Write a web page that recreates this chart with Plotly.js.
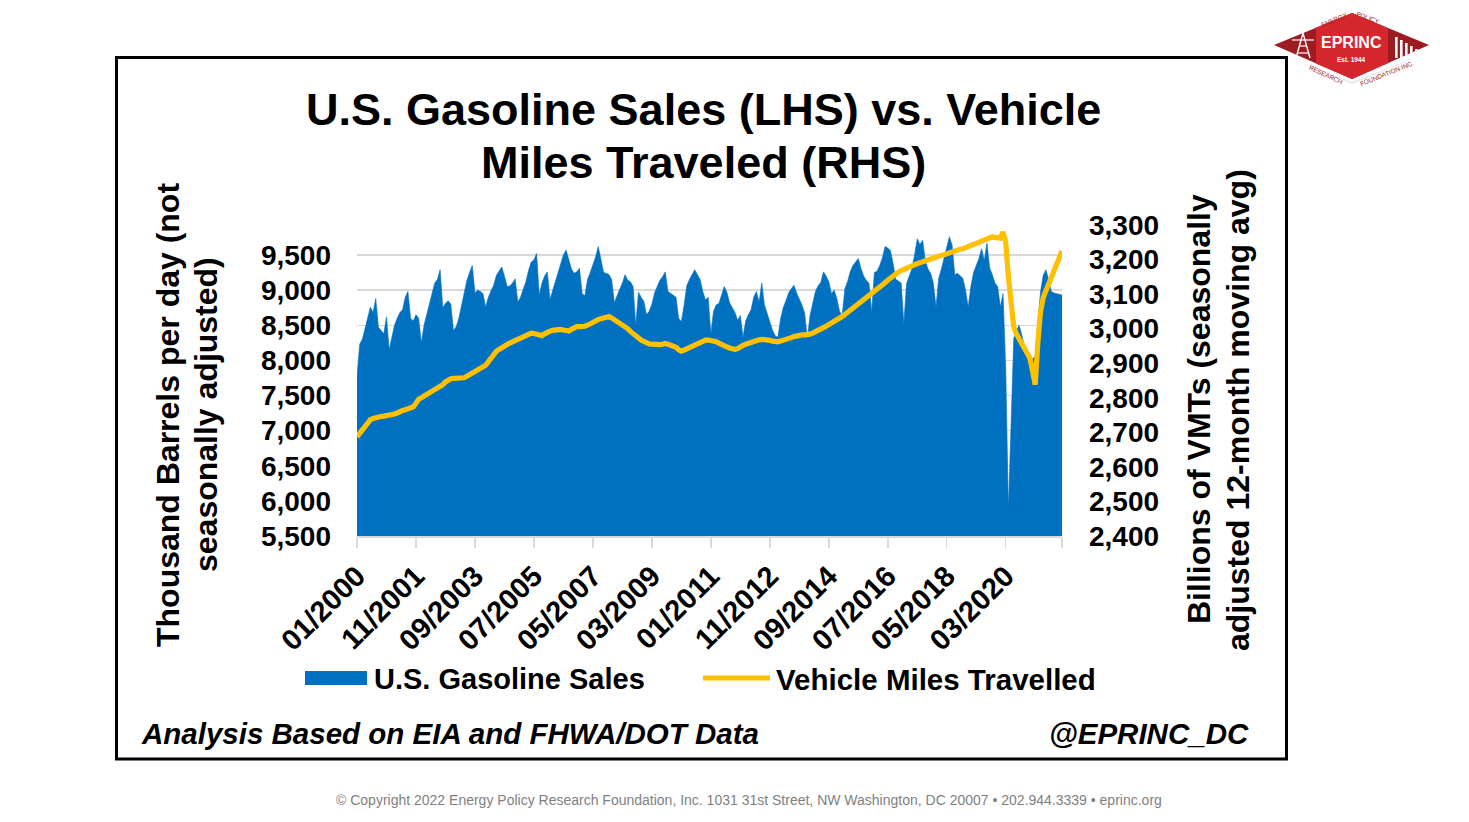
<!DOCTYPE html>
<html>
<head>
<meta charset="utf-8">
<script src="https://cdn.plot.ly/plotly-3.0.1.min.js"></script>
<style>
  html, body { margin: 0; padding: 0; background: #ffffff; }
  #chart { width: 1469px; height: 822px; }
</style>
</head>
<body>
<div id="chart"></div>
<script>
// ---------------- DATA ----------------
const startYear = 2000;
const endYear = 2021;

// U.S. finished motor gasoline product supplied, thousand barrels per day (not SA), monthly 01/2000 - 12/2021
const gasolineSales = [
  7770, 8230, 8300, 8450, 8620, 8760, 8680, 8880, 8470, 8420, 8380, 8620,
  8150, 8330, 8500, 8600, 8680, 8720, 8900, 8980, 8600, 8560, 8650, 8600,
  8250, 8500, 8660, 8800, 8980, 9100, 9150, 9290, 8750, 8810, 8850, 8800,
  8420, 8480, 8600, 8790, 8980, 9140, 9250, 9350, 8960, 9000, 8980, 8950,
  8760, 8900, 8990, 9070, 9210, 9270, 9330, 9200, 9050, 9060, 9100, 9160,
  8830, 8900, 9000, 9120, 9280, 9400, 9430, 9520, 8930, 9100, 9200, 9260,
  8870, 9000, 9130, 9260, 9380, 9500, 9570, 9420, 9300, 9240, 9260, 9310,
  8950, 8920, 9150, 9250, 9360, 9470, 9620, 9420, 9250, 9240, 9220, 9150,
  8820, 8920, 9000, 9100, 9220, 9140, 9120, 9050, 8500, 8970, 8900, 8840,
  8650, 8700, 8800, 8960, 9050, 9140, 9190, 9260, 8980, 8950, 8930, 8900,
  8600, 8550, 8780, 9060, 9150, 9230, 9290, 9220, 9150, 8980, 8860, 8900,
  8380, 8700, 8790, 8810, 8920, 9050, 8970, 8820, 8750, 8680, 8570, 8640,
  8330, 8560, 8650, 8720, 8900, 8980, 8830, 9100, 8790, 8670, 8550, 8430,
  8350, 8330, 8590, 8750, 8850, 8960, 9020, 9070, 8960, 8870, 8790, 8670,
  8310, 8640, 8800, 8980, 9060, 9110, 9260, 9200, 9120, 8950, 9000, 8880,
  8700, 8640, 9020, 9120, 9260, 9350, 9400, 9450, 9310, 9200, 9140, 9095,
  8690, 9250, 9270, 9350, 9460, 9620, 9600, 9560, 9380, 9150, 9130, 9100,
  8520, 9090, 9200, 9300, 9500, 9730, 9650, 9710, 9420, 9300, 9240, 9100,
  8760, 9170, 9300, 9450, 9600, 9760, 9640, 9220, 9240, 9200, 9170, 9000,
  8760, 9050, 9250, 9350, 9450, 9590, 9420, 9670, 9320, 9220, 9100, 9050,
  8760, 8950, 7900, 5880, 7100, 8310, 8420, 8500, 8360, 8200, 8100, 8080,
  8020, 8050, 8550, 8980, 9210, 9290, 9150, 8980, 8960, 8950, 8950, 8930
];

// Vehicle miles travelled, billions, seasonally adjusted 12-month moving average
const vehicleMiles = [
  2687, 2697, 2710, 2720, 2730, 2737, 2740, 2743, 2745, 2746, 2747, 2748,
  2749, 2751, 2753, 2756, 2761, 2763, 2765, 2768, 2771, 2774, 2784, 2796,
  2800, 2805, 2808, 2812, 2816, 2822, 2827, 2832, 2838, 2846, 2851, 2855,
  2856, 2856, 2855, 2856, 2858, 2862, 2867, 2874, 2879, 2883, 2886, 2890,
  2894, 2905, 2918, 2929, 2935, 2940, 2946, 2950, 2954, 2958, 2962, 2966,
  2970, 2974, 2977, 2981, 2985, 2987, 2986, 2985, 2983, 2980, 2985, 2990,
  2993, 2995, 2997, 2999, 2998, 2996, 2994, 2993, 2998, 3004, 3006, 3006,
  3006, 3007, 3010, 3015, 3018, 3021, 3026, 3029, 3032, 3034, 3035, 3031,
  3026, 3021, 3016, 3012, 3008, 3000, 2992, 2985, 2978, 2972, 2967, 2963,
  2958, 2956, 2955, 2954, 2953, 2954, 2955, 2957, 2955, 2953, 2951, 2946,
  2939, 2935, 2938, 2942, 2946, 2950, 2954, 2959, 2962, 2964, 2967, 2967,
  2966, 2964, 2962, 2958, 2953, 2950, 2947, 2944, 2941, 2940, 2942, 2948,
  2952, 2955, 2958, 2962, 2965, 2967, 2968, 2969, 2969, 2968, 2966, 2964,
  2962, 2962, 2964, 2966, 2967, 2970, 2974, 2977, 2980, 2981, 2982, 2982,
  2982, 2984, 2987, 2990, 2993, 2998, 3003, 3007, 3011, 3016, 3020, 3025,
  3030, 3035, 3041, 3047, 3053, 3058, 3063, 3069, 3075, 3081, 3087, 3093,
  3099, 3106, 3113, 3120, 3126, 3133, 3140, 3147, 3153, 3160, 3164, 3168,
  3172, 3175, 3179, 3182, 3185, 3188, 3191, 3194, 3197, 3200, 3203, 3206,
  3208, 3210, 3212, 3214, 3217, 3219, 3222, 3225, 3228, 3230, 3231, 3234,
  3237, 3240, 3243, 3247, 3249, 3252, 3254, 3257, 3261, 3266, 3264, 3261,
  3262, 3280, 3250, 3150, 3065, 3005, 2985, 2972, 2960, 2948, 2935, 2915,
  2878, 2838, 2960, 3050, 3090, 3110, 3130, 3150, 3165, 3185, 3205, 3225
];

const tickLabels = ['01/2000', '11/2001', '09/2003', '07/2005', '05/2007', '03/2009',
                    '01/2011', '11/2012', '09/2014', '07/2016', '05/2018', '03/2020'];

const seriesNames = ['U.S. Gasoline Sales', 'Vehicle Miles Travelled'];
const titleLines = ['U.S. Gasoline Sales (LHS) vs. Vehicle', 'Miles Traveled (RHS)'];
const leftTitleLines = ['Thousand Barrels per day (not', 'seasonally adjusted)'];
const rightTitleLines = ['Billions of VMTs (seasonally', 'adjusted 12-month moving avg)'];
const sourceNote = 'Analysis Based on EIA and FHWA/DOT Data';
const handleNote = '@EPRINC_DC';
const copyrightNote = '\u00A9 Copyright 2022 Energy Policy Research Foundation, Inc. 1031 31st Street, NW Washington, DC 20007 \u2022 202.944.3339 \u2022 eprinc.org';

// month categories MM/YYYY
const months = [];
for (let y = startYear; y <= endYear; y++) {
  for (let m = 1; m <= 12; m++) months.push((m < 10 ? '0' : '') + m + '/' + y);
}

// ---------------- LAYOUT HELPERS ----------------
const W = 1469, H = 822;
const PL = 357, PR = 1062, PT = 225, PB = 536;
const px = x => (x - PL) / (PR - PL);
const py = y => (PB - y) / (PB - PT);
const pathOf = pts => 'M' + pts.map(p => px(p[0]).toFixed(5) + ',' + py(p[1]).toFixed(5)).join('L') + 'Z';

const FONT = 'Liberation Sans, Arial, Helvetica, sans-serif';

function ann(text, x, y, opts) {
  return Object.assign({
    text: text, xref: 'paper', yref: 'paper', x: px(x), y: py(y),
    showarrow: false, xanchor: 'center', yanchor: 'middle',
    font: { family: FONT, size: 20, color: '#000000' }
  }, opts || {});
}

// ---------------- TRACES ----------------
const traces = [
  {
    type: 'scatter', mode: 'lines', name: seriesNames[0],
    x: months, y: gasolineSales,
    fill: 'tozeroy', fillcolor: '#0070C0',
    line: { color: '#0070C0', width: 0.6 },
    hoverinfo: 'x+y'
  },
  {
    type: 'scatter', mode: 'lines', name: seriesNames[1],
    x: months, y: vehicleMiles, yaxis: 'y2',
    line: { color: '#FFC000', width: 5.2 },
    hoverinfo: 'x+y'
  }
];

// ---------------- SHAPES ----------------
const shapes = [
  // outer black frame
  { type: 'rect', xref: 'paper', yref: 'paper', x0: px(116.5), x1: px(1286.5), y0: py(759), y1: py(57.5),
    line: { color: '#000000', width: 3 }, fillcolor: 'rgba(0,0,0,0)', layer: 'below' },
  // legend swatches
  { type: 'rect', xref: 'paper', yref: 'paper', x0: px(305), x1: px(367), y0: py(685), y1: py(671),
    line: { width: 0 }, fillcolor: '#0070C0' },
  { type: 'line', xref: 'paper', yref: 'paper', x0: px(703), x1: px(770), y0: py(678), y1: py(678),
    line: { color: '#FFC000', width: 5.2 } },
  // logo: faint shadow
  { type: 'path', xref: 'paper', yref: 'paper', path: pathOf([[1290, 58], [1352, 84], [1430, 52], [1352, 82]]),
    line: { width: 0 }, fillcolor: '#e6e6e6' },
  // logo: dark red diamond
  { type: 'path', xref: 'paper', yref: 'paper', path: pathOf([[1274, 45], [1352, 13], [1429, 45], [1352, 79]]),
    line: { width: 0 }, fillcolor: '#9c1c22' },
  // logo: bright red centre
  { type: 'path', xref: 'paper', yref: 'paper',
    path: pathOf([[1316, 27.8], [1352, 13], [1388, 28.3], [1388, 63.1], [1352, 79], [1316, 63.6]]),
    line: { width: 0 }, fillcolor: '#d6262e' },
  // derrick icon
  { type: 'path', xref: 'paper', yref: 'paper',
    path: 'M' + [[1296, 58], [1303, 33], [1310, 58]].map(p => px(p[0]) + ',' + py(p[1])).join('L'),
    line: { color: '#ffffff', width: 1.4 } },
  { type: 'line', xref: 'paper', yref: 'paper', x0: px(1299), x1: px(1307), y0: py(46), y1: py(46),
    line: { color: '#ffffff', width: 1.2 } },
  { type: 'line', xref: 'paper', yref: 'paper', x0: px(1297.5), x1: px(1308.5), y0: py(53), y1: py(53),
    line: { color: '#ffffff', width: 1.2 } },
  { type: 'line', xref: 'paper', yref: 'paper', x0: px(1292), x1: px(1314), y0: py(40), y1: py(40),
    line: { color: '#ffffff', width: 1.2 } }
];
// bars icon on the right of the logo
[[1395, 37], [1400, 40], [1405, 43], [1410, 46], [1415, 49]].forEach(b => {
  shapes.push({ type: 'rect', xref: 'paper', yref: 'paper', x0: px(b[0]), x1: px(b[0] + 2.6), y0: py(58), y1: py(b[1]),
    line: { width: 0 }, fillcolor: '#ffffff' });
});

// ---------------- ANNOTATIONS ----------------
const annotations = [
  ann('<b>' + titleLines[0] + '</b>', 703, 110, { font: { family: FONT, size: 45, color: '#000000' } }),
  ann('<b>' + titleLines[1] + '</b>', 703, 162, { font: { family: FONT, size: 45, color: '#000000' } }),
  ann('<b>' + leftTitleLines[0] + '</b>', 168, 415, { textangle: -90, font: { family: FONT, size: 32, color: '#000000' } }),
  ann('<b>' + leftTitleLines[1] + '</b>', 206, 415, { textangle: -90, font: { family: FONT, size: 32, color: '#000000' } }),
  ann('<b>' + rightTitleLines[0] + '</b>', 1199, 409, { textangle: -90, font: { family: FONT, size: 32, color: '#000000' } }),
  ann('<b>' + rightTitleLines[1] + '</b>', 1238, 410, { textangle: -90, font: { family: FONT, size: 32, color: '#000000' } }),
  ann('<b>' + seriesNames[0] + '</b>', 372, 679, { xanchor: 'left', font: { family: FONT, size: 29, color: '#000000' } }),
  ann('<b>' + seriesNames[1] + '</b>', 774, 679, { xanchor: 'left', font: { family: FONT, size: 29.5, color: '#000000' } }),
  ann('<b><i>' + sourceNote + '</i></b>', 139, 733, { xanchor: 'left', font: { family: FONT, size: 29.5, color: '#000000' } }),
  ann('<b><i>' + handleNote + '</i></b>', 1251, 733, { xanchor: 'right', font: { family: FONT, size: 29.5, color: '#000000' } }),
  ann(copyrightNote, 749, 800, { font: { family: FONT, size: 14, color: '#7f7f7f' } }),
  // logo texts
  ann('<b>EPRINC</b>', 1351, 42, { font: { family: FONT, size: 16, color: '#ffffff' } }),
  ann('<b>Est. 1944</b>', 1351, 59, { font: { family: FONT, size: 6.5, color: '#ffffff' } }),
  ann('ENERGY', 1334, 19, { textangle: -22, font: { family: FONT, size: 6.5, color: '#9c1c22' } }),
  ann('POLICY', 1368, 17, { textangle: 20, font: { family: FONT, size: 6.5, color: '#9c1c22' } }),
  ann('RESEARCH', 1326, 74, { textangle: 25, font: { family: FONT, size: 6.5, color: '#9c1c22' } }),
  ann('FOUNDATION INC.', 1386, 73, { textangle: -22, font: { family: FONT, size: 6.5, color: '#9c1c22' } })
];

// ---------------- LAYOUT ----------------
const tickFont = { family: FONT, size: 28, color: '#000000', weight: 'bold' };

const layout = {
  width: W, height: H, autosize: false,
  margin: { l: PL, r: W - PR, t: PT, b: H - PB, pad: 0 },
  paper_bgcolor: '#ffffff', plot_bgcolor: '#ffffff',
  showlegend: false,
  xaxis: {
    type: 'category', range: [0, months.length - 1],
    tickmode: 'array',
    tickvals: tickLabels.concat([months[months.length - 1]]),
    ticktext: tickLabels.concat(['']),
    tickangle: -45,
    ticks: 'outside', ticklen: 10, tickwidth: 1.5, tickcolor: '#d9d9d9',
    showline: true, linecolor: '#d9d9d9', linewidth: 1.5,
    showgrid: false, zeroline: false,
    tickfont: { family: FONT, size: 29, color: '#000000', weight: 'bold' }
  },
  yaxis: {
    range: [5500, 9927], tickmode: 'linear', tick0: 5500, dtick: 500,
    tickformat: ',d', ticks: '', ticklabelstandoff: 25,
    showgrid: true, gridcolor: '#d9d9d9', gridwidth: 1.4,
    zeroline: false, showline: false,
    tickfont: tickFont
  },
  yaxis2: {
    overlaying: 'y', side: 'right',
    range: [2400, 3300], tickmode: 'linear', tick0: 2400, dtick: 100,
    tickformat: ',d', ticks: '', ticklabelstandoff: 26,
    showgrid: false, zeroline: false, showline: false,
    tickfont: tickFont
  },
  shapes: shapes,
  annotations: annotations
};

Plotly.newPlot('chart', traces, layout, { displayModeBar: false, staticPlot: true });
</script>
</body>
</html>
